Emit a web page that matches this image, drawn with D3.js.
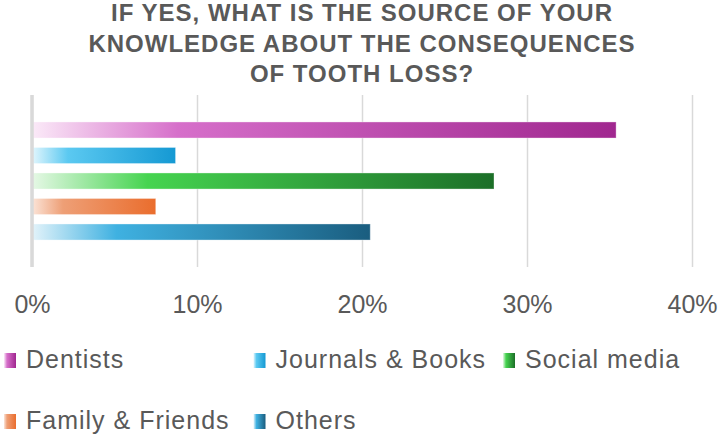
<!DOCTYPE html>
<html>
<head>
<meta charset="utf-8">
<script src="https://cdn.jsdelivr.net/npm/d3@7"></script>
<style>
  body { margin: 0; background: #fff; }
  text { font-family: "Liberation Sans", Arial, sans-serif; fill: #595959; }
</style>
</head>
<body>
<div id="container"></div>
<script>
/* DATA */
const titleLines = ["IF YES, WHAT IS THE SOURCE OF YOUR", "KNOWLEDGE ABOUT THE CONSEQUENCES", "OF TOOTH LOSS?"]
const sources = ["Dentists", "Journals & Books", "Social media", "Family & Friends", "Others"]
const shares = [0.354, 0.087, 0.280, 0.075, 0.205]
const xTicks = [0, 0.1, 0.2, 0.3, 0.4]
// light -> bright -> dark for each gradient fill
const palette = [
  ["#fbeaf8", "#d66fca", "#a0278f"],
  ["#e2f6fd", "#5bc9f1", "#1599d3"],
  ["#e6f8e6", "#46d450", "#1c6f28"],
  ["#fbe4d8", "#ee9f76", "#ea6d2d"],
  ["#e3f3fa", "#3fb1e1", "#1a5d7f"]
]

/* CONSTANTS */
const width = 720, height = 438
const plot = { top: 95, bottom: 267, left: 32, right: 692 }

const svg = d3.select("#container")
  .append("svg")
  .attr("width", width)
  .attr("height", height)

const data = sources.map((s, i) => ({ source: s, value: shares[i], colors: palette[i], id: "grad" + i }))

// GRADIENTS
const defs = svg.append("defs")
const grads = defs.selectAll("linearGradient")
  .data(data)
  .join("linearGradient")
  .attr("id", d => d.id)
  .attr("x1", 0).attr("x2", 1).attr("y1", 0).attr("y2", 0)
grads.append("stop").attr("offset", "0%").attr("stop-color", d => d.colors[0])
grads.append("stop").attr("offset", "25%").attr("stop-color", d => d.colors[1])
grads.append("stop").attr("offset", "100%").attr("stop-color", d => d.colors[2])

// TITLE
svg.append("g")
  .selectAll("text")
  .data(titleLines)
  .join("text")
  .attr("x", 362)
  .attr("y", (d, i) => 21 + i * 30.7)
  .attr("text-anchor", "middle")
  .style("font-weight", "bold")
  .style("font-size", "24px")
  .style("letter-spacing", "1px")
  .text(d => d)

// SCALES
const xScale = d3.scaleLinear()
  .domain([0, 0.4])
  .range([plot.left, plot.right])

const yScale = d3.scaleBand()
  .domain(sources)
  .range([plot.top, plot.bottom])
  .paddingInner(0.37)
  .paddingOuter(1.057)

// GRIDLINES + TICK LABELS
const xAxis = d3.axisBottom(xScale)
  .tickValues(xTicks)
  .tickFormat(d3.format(".0%"))
  .tickSize(-(plot.bottom - plot.top))
  .tickPadding(28)

const xAxisGroup = svg.append("g")
  .attr("transform", `translate(0, ${plot.bottom})`)
  .call(xAxis)
xAxisGroup.select(".domain").remove()
xAxisGroup.selectAll("line")
  .attr("stroke", "#d9d9d9")
  .attr("stroke-width", 1.5)
xAxisGroup.selectAll("text")
  .style("font-size", "25px")
  .attr("fill", "#595959")

// BARS
svg.selectAll(".bar")
  .data(data)
  .join("rect")
  .attr("class", "bar")
  .attr("x", xScale(0))
  .attr("y", d => yScale(d.source))
  .attr("width", d => xScale(d.value) - xScale(0))
  .attr("height", yScale.bandwidth())
  .attr("fill", d => `url(#${d.id})`)
  .attr("stroke", "#ffffff")
  .attr("stroke-opacity", 0.35)
  .attr("stroke-width", 1)

// ZERO AXIS LINE
svg.append("line")
  .attr("x1", xScale(0)).attr("x2", xScale(0))
  .attr("y1", plot.top).attr("y2", plot.bottom)
  .attr("stroke", "#d9d9d9")
  .attr("stroke-width", 3.5)

// LEGEND
const legendCols = 3, colWidth = 249.5
const legend = svg.append("g")
  .selectAll("g")
  .data(data)
  .join("g")
  .attr("transform", (d, i) => `translate(${4 + (i % legendCols) * colWidth}, ${368 + Math.floor(i / legendCols) * 61})`)

legend.append("rect")
  .attr("x", 0)
  .attr("y", -15)
  .attr("width", 12)
  .attr("height", 15)
  .attr("fill", d => `url(#${d.id})`)

legend.append("text")
  .attr("x", 22)
  .attr("y", 0)
  .style("font-size", "25px")
  .style("letter-spacing", "1px")
  .text(d => d.source)
</script>
</body>
</html>
